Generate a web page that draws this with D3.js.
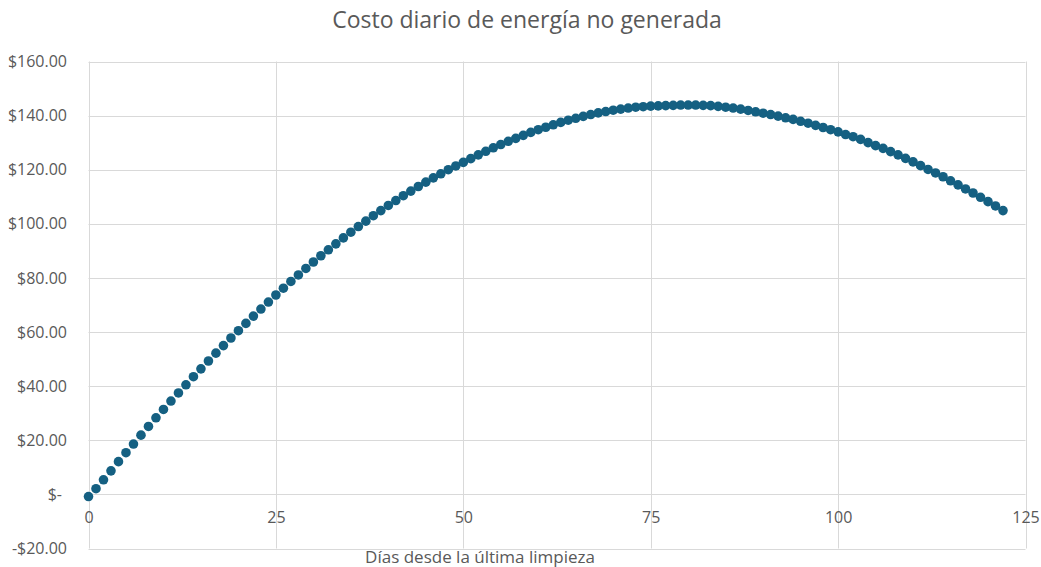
<!DOCTYPE html>
<html>
<head>
<meta charset="utf-8">
<script src="https://cdn.jsdelivr.net/npm/d3@7"></script>
<style>
  html, body { margin: 0; padding: 0; background: #fff; }
  svg { display: block; font-family: "Open Sans", "Noto Sans", sans-serif; }
</style>
</head>
<body>
<svg id="chart" width="1041" height="567"></svg>
<script>
// Daily cost of energy not generated, by days since last cleaning
const days = d3.range(0, 123);
const cost = [
  -0.8, 2.1, 5.4, 8.7, 12.1, 15.4, 18.6, 21.9, 25.1, 28.3,
  31.4, 34.5, 37.5, 40.5, 43.5, 46.4, 49.3, 52.2, 55.0, 57.8,
  60.5, 63.2, 65.9, 68.5, 71.1, 73.7, 76.2, 78.7, 81.1, 83.5,
  85.9, 88.2, 90.4, 92.6, 94.8, 96.9, 99.0, 101.0, 103.0, 104.9,
  106.8, 108.6, 110.4, 112.1, 113.8, 115.4, 117.0, 118.5, 120.0, 121.4,
  122.7, 124.1, 125.5, 126.8, 128.1, 129.3, 130.5, 131.6, 132.7, 133.8,
  134.8, 135.7, 136.6, 137.5, 138.3, 139.0, 139.7, 140.4, 141.0, 141.5,
  142.0, 142.4, 142.8, 143.1, 143.3, 143.5, 143.6, 143.7, 143.8, 143.9,
  143.9, 143.9, 143.8, 143.7, 143.4, 143.1, 142.8, 142.4, 141.9, 141.4,
  140.9, 140.4, 139.8, 139.2, 138.6, 137.9, 137.2, 136.4, 135.6, 134.8,
  134.0, 133.0, 132.2, 131.2, 130.0, 128.9, 127.9, 126.7, 125.5, 124.2,
  122.9, 121.5, 120.1, 118.8, 117.4, 115.9, 114.4, 112.9, 111.4, 109.8,
  108.2, 106.6, 104.9
];
const xTicks = [0, 25, 50, 75, 100, 125];
const yTicks = [-20, 0, 20, 40, 60, 80, 100, 120, 140, 160];
const titleText = "Costo diario de energía no generada";
const xTitleText = "Días desde la última limpieza";

const svg = d3.select("#chart");
const x = d3.scaleLinear().domain([0, 125]).range([88.5, 1025.5]);
const y = d3.scaleLinear().domain([-20, 160]).range([548.5, 61.5]);

const money = v => v === 0 ? "$-" : (v < 0 ? "-$" : "$") + d3.format(",.2f")(Math.abs(v));

// gridlines
const grid = svg.append("g");
grid.selectAll("line.h").data(yTicks).join("line")
  .attr("x1", x(0)).attr("x2", x(125))
  .attr("y1", d => Math.round(y(d)) + 0.5).attr("y2", d => Math.round(y(d)) + 0.5)
  .attr("stroke", "#d9d9d9").attr("stroke-width", 1);
grid.selectAll("line.v").data(xTicks).join("line")
  .attr("y1", y(-20)).attr("y2", y(160))
  .attr("x1", d => Math.round(x(d)) + 0.5).attr("x2", d => Math.round(x(d)) + 0.5)
  .attr("stroke", "#d9d9d9").attr("stroke-width", 1);

// y axis labels
const yAxis = d3.axisLeft(y).tickValues(yTicks).tickFormat(money).tickSize(0).tickPadding(0);
const gy = svg.append("g").attr("transform", "translate(67,0)").call(yAxis);
gy.select(".domain").remove();
gy.selectAll("text").attr("fill", "#595959").style("font-size", "16px")
  .attr("font-family", "\"Open Sans\", sans-serif")
  .attr("dx", d => d === 0 ? -5 : 0);

// x axis labels, sitting just under the zero line
const xAxis = d3.axisBottom(x).tickValues(xTicks).tickFormat(d3.format("d")).tickSize(0).tickPadding(0);
const gx = svg.append("g").attr("transform", "translate(0,512)").call(xAxis);
gx.select(".domain").remove();
gx.selectAll("text").attr("fill", "#595959").style("font-size", "16px")
  .attr("font-family", "\"Open Sans\", sans-serif");

// markers
svg.append("g").selectAll("circle").data(days).join("circle")
  .attr("cx", d => x(d)).attr("cy", (d, i) => y(cost[i]))
  .attr("r", 4.8).attr("fill", "#156082");

// titles
svg.append("text").attr("x", 527).attr("y", 28).attr("text-anchor", "middle")
  .attr("fill", "#595959").style("font-size", "23px").text(titleText);
svg.append("text").attr("x", 480).attr("y", 563).attr("text-anchor", "middle")
  .attr("fill", "#595959").style("font-size", "17px").text(xTitleText);
</script>
</body>
</html>
